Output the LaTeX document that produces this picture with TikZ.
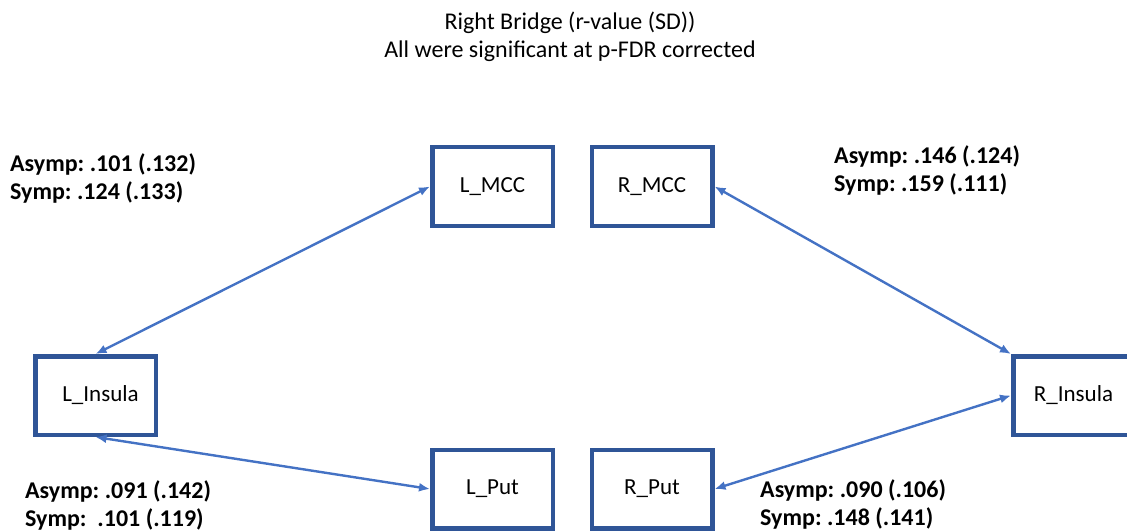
\documentclass[tikz,border=0pt]{standalone}
\usepackage{fontspec}
\setmainfont{Carlito}
\usepackage{tikz}
\usetikzlibrary{arrows.meta,positioning}
\definecolor{boxblue}{HTML}{2F5597}
\definecolor{linkblue}{HTML}{4472C4}
\frenchspacing

\begin{document}
\begin{tikzpicture}[x=1pt,y=-1pt]
\tikzstyle{rect}=[rectangle, draw=boxblue, line width=4.5pt, minimum width=120.5pt, minimum height=78.5pt, font=\fontsize{23}{27}\selectfont]
\tikzstyle{stat}=[anchor=west, align=left, inner sep=0pt, font=\fontsize{24}{28}\selectfont\bfseries]
\tikzstyle{connect}=[{Latex[length=11pt,width=9pt]}-{Latex[length=11pt,width=9pt]}, line width=2.4pt, draw=linkblue]

  \useasboundingbox (0,0) rectangle (1127,532);
  \clip (0,0) rectangle (1127,532);

  % title
  \node[align=center, font=\fontsize{24}{28}\selectfont] (title) at (570,37)
    {Right Bridge (r-value (SD))\\All were significant at p-FDR corrected};

  % regions
  \node[rect] (LMCC)    at (492.5,186.5) {L\_MCC};
  \node[rect] (RMCC)    [right=34.5pt of LMCC] {R\_MCC};
  \node[rect] (LPut)    at (492.5,489)   {L\_Put};
  \node[rect] (RPut)    [right=34.5pt of LPut] {R\_Put};
  \node[rect] (LInsula) at (95.5,395.5)  {\hspace{10pt}L\_Insula};
  \node[rect] (RInsula) at (1073.5,395.5) {R\_Insula};

  % links
  \path (LInsula.north) edge [connect] (LMCC.west);
  \path (LInsula.south) edge [connect] (LPut.west);
  \path (RMCC.east) edge [connect] (RInsula.north west);
  \path (RPut.east) edge [connect] (RInsula.west);

  % r-values
  \node[stat] (statLMCC) at (10,178)  {Asymp: .101 (.132)\\Symp: .124 (.133)};
  \node[stat] (statRMCC) at (834,170) {Asymp: .146 (.124)\\Symp: .159 (.111)};
  \node[stat] (statLPut) at (25,505)  {Asymp: .091 (.142)\\Symp:\ \ .101 (.119)};
  \node[stat] (statRPut) at (760,504) {Asymp: .090 (.106)\\Symp: .148 (.141)};

\end{tikzpicture}
\end{document}
